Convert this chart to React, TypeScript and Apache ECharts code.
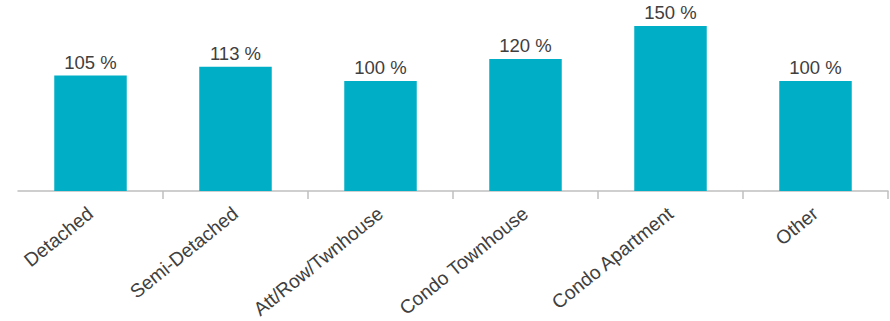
import React, { useEffect, useRef } from "react";
import * as echarts from "echarts";

const categories = ["Detached", "Semi-Detached", "Att/Row/Twnhouse", "Condo Townhouse", "Condo Apartment", "Other"];
const values = [105, 113, 100, 120, 150, 100];

export default function App() {
  const ref = useRef<HTMLDivElement>(null);
  useEffect(() => {
    document.body.style.margin = "0";
    const chart = echarts.init(ref.current!, null, { renderer: "svg" });
    chart.setOption({
      animation: false,
      textStyle: { fontFamily: "'Liberation Sans', Arial, sans-serif" },
      grid: { left: 18, right: 2, top: 15, bottom: 130, containLabel: false, outerBoundsMode: "none" },
      xAxis: {
        type: "category",
        data: categories,
        axisLine: { lineStyle: { color: "#BFBFBF", width: 1.5 } },
        axisTick: {
          show: true,
          length: 8,
          lineStyle: { color: "#BFBFBF", width: 1.5 },
          interval: (i: number) => i !== 0,
        },
        axisLabel: {
          rotate: 39,
          interval: 0,
          margin: 20,
          fontSize: 19.2,
          color: "#404040",
          fontFamily: "'Liberation Sans', Arial, sans-serif",
        },
      },
      yAxis: { type: "value", min: 0, max: 160, show: false, splitLine: { show: false } },
      series: [
        {
          type: "bar",
          data: values,
          barWidth: "50%",
          itemStyle: { color: "#00AFC6" },
          label: {
            show: true,
            position: "top",
            distance: 4,
            formatter: "{c} %",
            fontSize: 18.5,
            color: "#404040",
            fontFamily: "'Liberation Sans', Arial, sans-serif",
          },
        },
      ],
    });
    return () => chart.dispose();
  }, []);
  return <div ref={ref} style={{ width: 890, height: 321 }} />;
}
